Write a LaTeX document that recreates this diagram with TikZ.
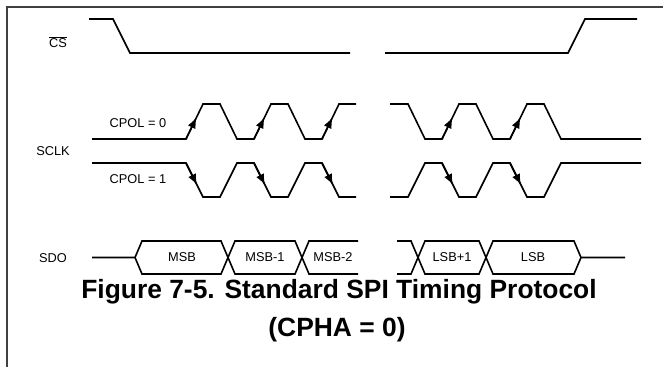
\documentclass[tikz,border=0pt]{standalone}
\usepackage{fontspec}
\setmainfont{Liberation Sans}
\usetikzlibrary{arrows.meta,calc}
\tikzset{
  wave/.style={line width=1.6pt, line join=miter},
  lbl/.style={inner sep=0pt, font=\fontsize{12.8}{14}\selectfont},
  captext/.style={inner sep=0pt, font=\fontsize{26.4}{30}\selectfont\bfseries},
  edgetip/.style={-{Latex[length=11pt,width=8.5pt]}, line width=1.6pt},
  frameline/.style={line width=1.2pt, draw=black!75}
}
\begin{document}
\begin{tikzpicture}[x=1pt,y=-1pt]
\useasboundingbox (0,0) rectangle (663,367);
% frame
\coordinate (fr1) at (663,7);
\coordinate (fr2) at (7,7);
\coordinate (fr3) at (7,367);
\draw[frameline] (fr1) -- (fr2) -- (fr3);

% labels
\node[lbl] (cs) at (58,42) {$\overline{\hbox{CS}}$};
\node[lbl] (sclk) at (53,151) {SCLK};
\node[lbl] (sdo) at (53,258) {SDO};
\node[lbl] (cpol0) at (138,123) {CPOL = 0};
\node[lbl] (cpol1) at (138,179) {CPOL = 1};

% CS
\draw[wave] (89,19) -- (113,19) -- (130,53) -- (350,53);
\draw[wave] (385,53) -- (568,53) -- (585,19) -- (637,19);

% CPOL = 0
\draw[wave] (92,139) -- (186,139) -- (203,104) -- (220,104) -- (237,139) -- (254,139)
  -- (271,104) -- (288,104) -- (305,139) -- (322,139) -- (339,104) -- (356,104);
\draw[wave] (390,104) -- (408,104) -- (425,139) -- (442,139) -- (459,104) -- (476,104)
  -- (493,139) -- (510,139) -- (527,104) -- (544,104) -- (561,139) -- (641,139);
\foreach \a in {186,254,322,442,510}{
  \draw[edgetip] (\a,139) -- ($(\a,139)!0.62!(\a+17,104)$);
}

% CPOL = 1
\draw[wave] (92,163) -- (186,163) -- (203,197) -- (220,197) -- (237,163) -- (254,163)
  -- (271,197) -- (288,197) -- (305,163) -- (322,163) -- (339,197) -- (356,197);
\draw[wave] (390,197) -- (408,197) -- (425,163) -- (442,163) -- (459,197) -- (476,197)
  -- (493,163) -- (510,163) -- (527,197) -- (544,197) -- (561,163) -- (641,163);
\foreach \a in {186,254,322,442,510}{
  \draw[edgetip] (\a,163) -- ($(\a,163)!0.65!(\a+17,197)$);
}

% SDO
\draw[wave] (92,257.5) -- (135,257.5) -- (142,241) -- (221,241) -- (235,274) -- (295,274)
  -- (309,241) -- (358,241);
\draw[wave] (135,257.5) -- (142,274) -- (221,274) -- (235,241) -- (295,241)
  -- (309,274) -- (358,274);
\draw[wave] (397,241) -- (411,241) -- (425,274) -- (479,274) -- (493,241) -- (574,241)
  -- (581,257.5) -- (625,257.5);
\draw[wave] (397,274) -- (411,274) -- (425,241) -- (479,241) -- (493,274) -- (574,274)
  -- (581,257.5);
\node[lbl] (msb) at (182,257) {MSB};
\node[lbl] (msb1) at (265,257) {MSB-1};
\node[lbl] (msb2) at (333,257) {MSB-2};
\node[lbl] (lsb1) at (452,257) {LSB+1};
\node[lbl] (lsb) at (533,257) {LSB};

% caption
\node[captext] (cap1) at (339,292) {Figure 7-5. Standard SPI Timing Protocol};
\node[captext] (cap2) at (337,330) {(CPHA = 0)};
\end{tikzpicture}
\end{document}
